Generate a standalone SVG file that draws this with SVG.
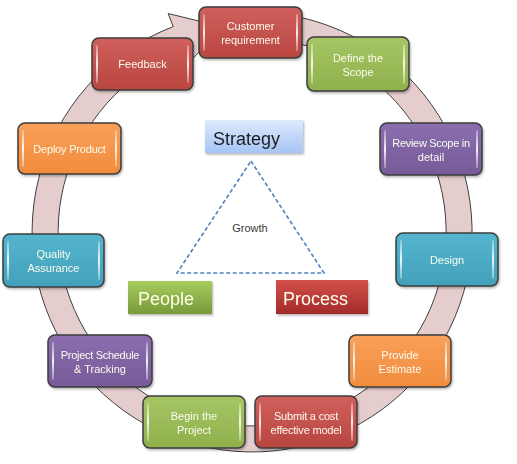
<svg xmlns="http://www.w3.org/2000/svg" width="517" height="464" viewBox="0 0 517 464">
<defs>
<linearGradient id="gRed" x1="0" y1="0" x2="0" y2="1"><stop offset="0" stop-color="#D0605D"/><stop offset="1" stop-color="#B8463F"/></linearGradient>
<linearGradient id="gGreen" x1="0" y1="0" x2="0" y2="1"><stop offset="0" stop-color="#A6C665"/><stop offset="1" stop-color="#8FB04C"/></linearGradient>
<linearGradient id="gPurple" x1="0" y1="0" x2="0" y2="1"><stop offset="0" stop-color="#8A6EAE"/><stop offset="1" stop-color="#765A98"/></linearGradient>
<linearGradient id="gOrange" x1="0" y1="0" x2="0" y2="1"><stop offset="0" stop-color="#F9A05A"/><stop offset="1" stop-color="#F18C3C"/></linearGradient>
<linearGradient id="gTeal" x1="0" y1="0" x2="0" y2="1"><stop offset="0" stop-color="#55B5CE"/><stop offset="1" stop-color="#42A1BB"/></linearGradient>
<linearGradient id="gBlue" x1="0" y1="0" x2="0" y2="1"><stop offset="0" stop-color="#DDE9FC"/><stop offset="1" stop-color="#A5C5F6"/></linearGradient>
<linearGradient id="gPeople" x1="0" y1="0" x2="0" y2="1"><stop offset="0" stop-color="#A9CC5E"/><stop offset="1" stop-color="#779A3C"/></linearGradient>
<linearGradient id="gProcess" x1="0" y1="0" x2="0" y2="1"><stop offset="0" stop-color="#D3504B"/><stop offset="1" stop-color="#A32B29"/></linearGradient>
<linearGradient id="gGloss" x1="0" y1="0" x2="0" y2="1"><stop offset="0" stop-color="#FFFFFF" stop-opacity="0.3"/><stop offset="0.5" stop-color="#FFFFFF" stop-opacity="0.9"/><stop offset="1" stop-color="#FFFFFF" stop-opacity="0.3"/></linearGradient>
<filter id="shadow" x="-20%" y="-20%" width="150%" height="160%"><feDropShadow dx="2" dy="3" stdDeviation="2" flood-color="#000" flood-opacity="0.35"/></filter>
<filter id="shadowS" x="-10%" y="-10%" width="130%" height="140%"><feDropShadow dx="1" dy="1.5" stdDeviation="1" flood-color="#000" flood-opacity="0.3"/></filter>
</defs>
<style>
.box{stroke:#3C3C3C;stroke-width:1.5}
.gl{fill:url(#gGloss)}
.t{font-family:"Liberation Sans",Arial,sans-serif;font-size:11px;fill:#FBFBEF;text-anchor:middle}
.big{font-family:"Liberation Sans",Arial,sans-serif;font-size:18px}
</style>
<rect width="517" height="464" fill="#FFFFFF"/>
<g id="connectors">
<path d="M 290.2,15.3 A 220 220 0 1 1 173.2,26.6 L 168.1,13.5 L 223.2,27.0 L 187.5,64.0 L 182.5,50.9 A 194 194 0 1 0 285.7,40.9 Z" fill="#E5CDCE" stroke="#3F3F3F" stroke-width="1"/>
</g>
<g id="growth-triangle">
<path d="M 251,161 L 324,273 L 177,273 Z" fill="none" stroke="#4F81BD" stroke-width="1.6" stroke-dasharray="4 2.5"/>
<text x="250" y="232" font-family="'Liberation Sans',Arial,sans-serif" font-size="11" fill="#3A3A3A" text-anchor="middle">Growth</text>
</g>
<g id="strategy" filter="url(#shadowS)">
<rect x="205" y="120" width="98" height="33" fill="url(#gBlue)"/>
<text x="213" y="145" class="big" fill="#1E1E1E">Strategy</text>
</g>
<g id="people" filter="url(#shadowS)">
<rect x="128" y="281" width="84" height="33" fill="url(#gPeople)"/>
<text x="138" y="305" class="big" fill="#FFFFE6">People</text>
</g>
<g id="process" filter="url(#shadowS)">
<rect x="276" y="280" width="92" height="34" fill="url(#gProcess)"/>
<text x="283" y="305" class="big" fill="#FFFFF0">Process</text>
</g>
<g id="feedback" filter="url(#shadowS)">
<rect class="box" x="92" y="38" width="101" height="52" rx="7" fill="url(#gRed)"/>
<rect class="gl" x="96" y="45" width="2" height="38" rx="1"/><rect class="gl" x="187" y="45" width="2" height="38" rx="1"/>
<text class="t" x="142.5" y="68">Feedback</text>
</g>
<g id="customer-requirement" filter="url(#shadowS)">
<rect class="box" x="199" y="7" width="103" height="51" rx="7" fill="url(#gRed)"/>
<rect class="gl" x="203" y="14" width="2" height="37" rx="1"/><rect class="gl" x="296" y="14" width="2" height="37" rx="1"/>
<text class="t" x="250.5" y="30">Customer</text>
<text class="t" x="250.5" y="44">requirement</text>
</g>
<g id="define-the-scope" filter="url(#shadowS)">
<rect class="box" x="307" y="37" width="102" height="54" rx="7" fill="url(#gGreen)"/>
<rect class="gl" x="311" y="44" width="2" height="40" rx="1"/><rect class="gl" x="403" y="44" width="2" height="40" rx="1"/>
<text class="t" x="358" y="62">Define the</text>
<text class="t" x="358" y="76">Scope</text>
</g>
<g id="review-scope" filter="url(#shadowS)">
<rect class="box" x="380" y="123" width="102" height="52" rx="7" fill="url(#gPurple)"/>
<rect class="gl" x="384" y="130" width="2" height="38" rx="1"/><rect class="gl" x="476" y="130" width="2" height="38" rx="1"/>
<text class="t" x="431" y="147" letter-spacing="-0.3">Review Scope in</text>
<text class="t" x="431" y="161">detail</text>
</g>
<g id="design" filter="url(#shadowS)">
<rect class="box" x="396" y="233" width="102" height="53" rx="7" fill="url(#gTeal)"/>
<rect class="gl" x="400" y="240" width="2" height="39" rx="1"/><rect class="gl" x="492" y="240" width="2" height="39" rx="1"/>
<text class="t" x="447" y="264">Design</text>
</g>
<g id="provide-estimate" filter="url(#shadowS)">
<rect class="box" x="349" y="335" width="102" height="52" rx="7" fill="url(#gOrange)"/>
<rect class="gl" x="353" y="342" width="2" height="38" rx="1"/><rect class="gl" x="445" y="342" width="2" height="38" rx="1"/>
<text class="t" x="400" y="359">Provide</text>
<text class="t" x="400" y="373">Estimate</text>
</g>
<g id="submit-cost-model" filter="url(#shadowS)">
<rect class="box" x="255" y="396" width="102" height="52" rx="7" fill="url(#gRed)"/>
<rect class="gl" x="259" y="403" width="2" height="38" rx="1"/><rect class="gl" x="351" y="403" width="2" height="38" rx="1"/>
<text class="t" x="306" y="420" letter-spacing="-0.2">Submit a cost</text>
<text class="t" x="306" y="434" letter-spacing="-0.2">effective model</text>
</g>
<g id="begin-the-project" filter="url(#shadowS)">
<rect class="box" x="143" y="396" width="102" height="52" rx="7" fill="url(#gGreen)"/>
<rect class="gl" x="147" y="403" width="2" height="38" rx="1"/><rect class="gl" x="239" y="403" width="2" height="38" rx="1"/>
<text class="t" x="194" y="420">Begin the</text>
<text class="t" x="194" y="434">Project</text>
</g>
<g id="project-schedule" filter="url(#shadowS)">
<rect class="box" x="48" y="335" width="104" height="52" rx="7" fill="url(#gPurple)"/>
<rect class="gl" x="52" y="342" width="2" height="38" rx="1"/><rect class="gl" x="146" y="342" width="2" height="38" rx="1"/>
<text class="t" x="100" y="359" letter-spacing="-0.3">Project Schedule</text>
<text class="t" x="100" y="373">&amp; Tracking</text>
</g>
<g id="quality-assurance" filter="url(#shadowS)">
<rect class="box" x="3" y="234" width="101" height="53" rx="7" fill="url(#gTeal)"/>
<rect class="gl" x="7" y="241" width="2" height="39" rx="1"/><rect class="gl" x="98" y="241" width="2" height="39" rx="1"/>
<text class="t" x="53.5" y="258">Quality</text>
<text class="t" x="53.5" y="272">Assurance</text>
</g>
<g id="deploy-product" filter="url(#shadowS)">
<rect class="box" x="18" y="123" width="103" height="51" rx="7" fill="url(#gOrange)"/>
<rect class="gl" x="22" y="130" width="2" height="37" rx="1"/><rect class="gl" x="115" y="130" width="2" height="37" rx="1"/>
<text class="t" x="69.5" y="152.5" letter-spacing="-0.2">Deploy Product</text>
</g>
</svg>
